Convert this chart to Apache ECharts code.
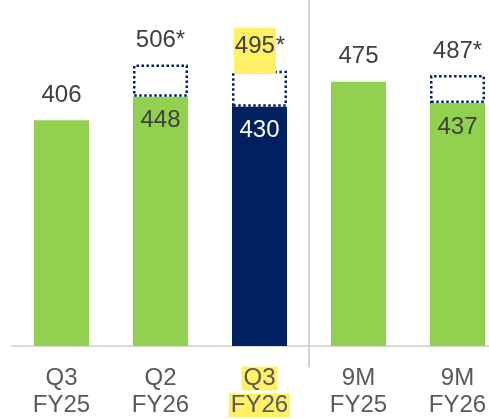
<!DOCTYPE html>
<html><head><meta charset="utf-8">
<script src="https://cdn.jsdelivr.net/npm/echarts@6/dist/echarts.min.js"></script>
<style>html,body{margin:0;padding:0;background:#fff}#c{width:489px;height:419px}</style>
</head><body><div id="c"></div>
<script>
const categories = ['Q3\nFY25', 'Q2\nFY26', 'Q3\nFY26', '9M\nFY25', '9M\nFY26'];
const actualValues = [406, 448, 430, 475, 437];
const adjustedValues = [null, 506, 495, null, 487];
const highlightIndex = 2;
const separatorAfter = categories.filter(c => c.startsWith('Q')).length; // quarterly vs 9M

const FONT = 'Liberation Sans';
const GREEN = '#92D050', NAVY = '#002060', TXT = '#404040', AX = '#595959', HL = '#FFF066';
const FS = 24;

const actualData = actualValues.map((v, i) => {
  const hasAdj = adjustedValues[i] != null;
  const isHl = i === highlightIndex;
  return {
    value: v,
    itemStyle: { color: isHl ? NAVY : GREEN },
    label: {
      show: true,
      position: hasAdj ? 'insideTop' : 'top',
      distance: hasAdj ? 12 : 13,
      color: isHl ? '#ffffff' : TXT
    }
  };
});
const boxData = adjustedValues.map((v, i) => {
  if (v == null) return { value: null, label: { show: false } };
  const d = { value: v - actualValues[i] };
  if (i === highlightIndex) {
    d.label = {
      show: true, distance: -3,
      formatter: '{hl|' + v + '}{n|*}',
      rich: {
        hl: { backgroundColor: HL, padding: [7, 1, 15, 1], fontSize: FS, color: TXT, fontFamily: FONT },
        n: { padding: [7, 0, 15, 0], fontSize: FS, color: TXT, fontFamily: FONT }
      }
    };
  }
  return d;
});

const chart = echarts.init(document.getElementById('c'), null, { renderer: 'canvas' });
chart.setOption({
  animation: false,
  grid: { left: 12, top: 0, width: 495, height: 346, containLabel: false, outerBoundsMode: 'none' },
  xAxis: [{
    type: 'category',
    data: categories,
    axisLine: { lineStyle: { color: '#d9d9d9', width: 2 } },
    axisTick: { show: false },
    splitLine: { show: false },
    axisLabel: {
      margin: 19, fontSize: FS, lineHeight: 27, color: AX, fontFamily: FONT, interval: 0,
      formatter: (val, i) => {
        if (i === highlightIndex) return val.split('\n').map(s => '{hl|' + s + '}').join('\n');
        return val;
      },
      rich: { hl: { backgroundColor: HL, padding: [0, 2, 0, 2], lineHeight: 27, fontSize: FS, color: AX, fontFamily: FONT } }
    }
  }, {
    type: 'value', min: 0, max: categories.length, show: false, splitLine: { show: false }
  }],
  yAxis: { type: 'value', min: 0, max: 622, show: false, splitLine: { show: false } },
  series: [
    {
      type: 'bar', stack: 's', barWidth: 55, data: actualData,
      label: { show: true, fontSize: FS, fontFamily: FONT, color: TXT }
    },
    {
      type: 'bar', stack: 's', barWidth: 55, data: boxData,
      itemStyle: { color: 'rgba(255,255,255,0)', borderColor: NAVY, borderType: 'dotted', borderWidth: 2.5 },
      label: {
        show: true, position: 'top', distance: 12, fontSize: FS, fontFamily: FONT, color: TXT,
        formatter: (p) => adjustedValues[p.dataIndex] + '*'
      }
    },
    {
      type: 'line', xAxisIndex: 1, yAxisIndex: 0, clip: false, silent: true,
      data: [[separatorAfter, 622], [separatorAfter, -38]],
      symbol: 'none', showSymbol: false,
      lineStyle: { color: '#d0d0d0', width: 2 }
    }
  ]
});
</script></body></html>
